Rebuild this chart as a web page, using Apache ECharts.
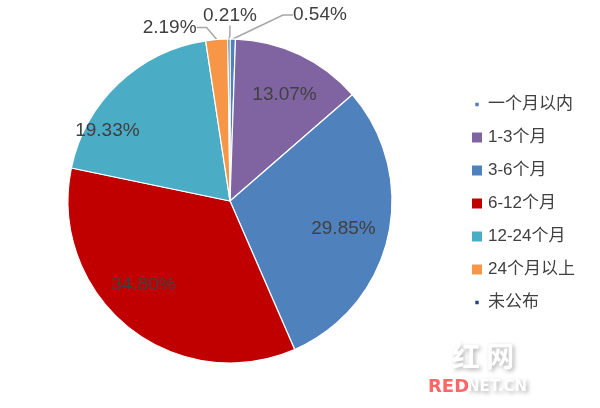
<!DOCTYPE html>
<html>
<head>
<meta charset="utf-8">
<script src="https://cdn.jsdelivr.net/npm/echarts@6/dist/echarts.min.js"></script>
<style>
  html, body { margin: 0; padding: 0; background: #fff; }
  #chart { width: 600px; height: 408px; }
</style>
</head>
<body>
<div id="chart"></div>
<script>
const categories = ['一个月以内', '1-3个月', '3-6个月', '6-12个月', '12-24个月', '24个月以上', '未公布']
const values = [0.54, 13.07, 29.85, 34.80, 19.33, 2.19, 0.21]
const colors = ['#4F81BD', '#8064A2', '#4F81BD', '#C00000', '#4BACC6', '#F79646', '#1F497D']
// small slices get their label outside with a leader line
const outside = [true, false, false, false, false, true, true]
// nudges of the labels away from the library's default spot (excel "best fit" look)
const labelShift = [[45, -10], [1, 6], [-8, 0], [-8, -13], [-37, 20], [-4, 2], [43, -9]]

const smallIcon = 'path://M0,0M11,11M3,3h5v5h-5z'

const chart = echarts.init(document.getElementById('chart'))

const center = [230, 201]
const R = 162

const mainData = categories.map((name, i) => ({
    name: name,
    value: values[i],
    itemStyle: { color: colors[i] },
    label: { show: outside[i] },
    labelLine: { show: outside[i] }
}))

const innerLabels = categories.map((name, i) => ({
    name: name,
    value: values[i],
    label: { show: !outside[i] }
}))

// move label by setting x/y so the leader line gets redrawn to it
const shiftLabel = params => {
    let r = params.labelRect
    let s = labelShift[params.dataIndex]
    return {
        x: r.x + r.width / 2 + s[0],
        y: r.y + r.height / 2 + s[1],
        align: 'center',
        verticalAlign: 'middle',
        hideOverlap: false
    }
}

const option = {
    animation: false,
    textStyle: { fontFamily: 'Liberation Sans, Arial, sans-serif' },
    legend: {
        orient: 'vertical',
        left: 465,
        top: 91,
        itemWidth: 12,
        itemHeight: 12,
        itemGap: 16,
        textStyle: {
            fontSize: 17,
            lineHeight: 17,
            color: '#404040',
            fontFamily: 'Liberation Sans, Noto Sans CJK SC, sans-serif'
        },
        data: categories.map((name, i) => ({
            name: name,
            icon: (i === 0 || i === 6) ? smallIcon : 'rect'
        }))
    },
    series: [
        {
            type: 'pie',
            center: center,
            radius: [0, R],
            startAngle: 90,
            clockwise: true,
            avoidLabelOverlap: false,
            itemStyle: { borderColor: '#fff', borderWidth: 1.2 },
            label: {
                position: 'outside',
                formatter: p => p.value.toFixed(2) + '%',
                fontSize: 19,
                color: '#404040'
            },
            labelLine: {
                length: 14,
                length2: 10,
                lineStyle: { color: '#A6A6A6', width: 1.5 }
            },
            labelLayout: shiftLabel,
            emphasis: { disabled: true },
            data: mainData
        },
        {
            type: 'pie',
            center: center,
            radius: [0, R * 1.5],
            startAngle: 90,
            clockwise: true,
            silent: true,
            itemStyle: { color: 'rgba(0,0,0,0)' },
            label: {
                position: 'inside',
                formatter: p => p.value.toFixed(2) + '%',
                fontSize: 19,
                color: '#404040'
            },
            labelLine: { show: false },
            labelLayout: shiftLabel,
            data: innerLabels
        }
    ],
    graphic: [
        {
            type: 'text', left: 452, top: 342,
            style: { text: '红 网', fontSize: 28, fontWeight: 'bold', fill: '#ffffff', fontFamily: 'Noto Sans CJK SC',
                     textShadowColor: 'rgba(0,0,0,0.3)', textShadowBlur: 4, textShadowOffsetX: 2, textShadowOffsetY: 2 }
        },
        {
            type: 'text', left: 428, top: 378,
            style: { text: 'RED', fontSize: 18, fontWeight: 'bold', fill: '#FF6666', fontFamily: 'DejaVu Sans' }
        },
        {
            type: 'text', left: 467, top: 380,
            style: { text: 'NET.CN', fontSize: 15, fontWeight: 'bold', fill: '#ffffff', fontFamily: 'DejaVu Sans',
                     textShadowColor: 'rgba(0,0,0,0.3)', textShadowBlur: 4, textShadowOffsetX: 2, textShadowOffsetY: 2 }
        }
    ]
}

chart.setOption(option)
</script>
</body>
</html>
